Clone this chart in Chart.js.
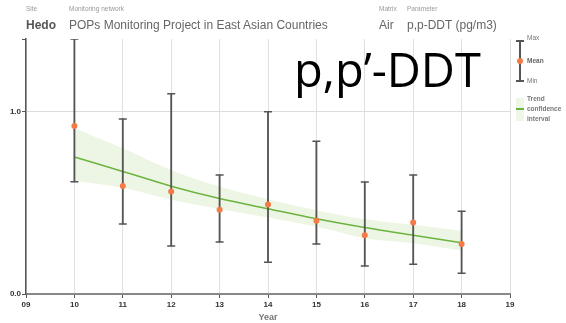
<!DOCTYPE html>
<html>
<head>
<meta charset="utf-8">
<script src="https://cdn.jsdelivr.net/npm/chart.js@4/dist/chart.umd.min.js"></script>
<style>
  html, body { margin: 0; padding: 0; background: #fff; }
  body { width: 566px; height: 323px; position: relative; overflow: hidden; font-family: "Liberation Sans", Arial, sans-serif; }
  #wrap { position: absolute; left: 0; top: 0; width: 566px; height: 323px; }
  .lbl { position: absolute; font-size: 6.5px; color: #999; white-space: nowrap; }
  .val { position: absolute; font-size: 12px; color: #666; white-space: nowrap; }
  .big { position: absolute; left: 294px; top: 46px; font-family: "Open Sans", sans-serif; font-size: 47px; color: #000; white-space: nowrap; line-height: 1; }
  .leg { position: absolute; font-size: 6.5px; color: #777; white-space: nowrap; }
</style>
</head>
<body>
<div id="wrap"><canvas id="chart" width="566" height="323"></canvas></div>

<div class="lbl" style="left:26px; top:5px;">Site</div>
<div class="lbl" style="left:69px; top:5px;">Monitoring network</div>
<div class="lbl" style="left:379px; top:5px;">Matrix</div>
<div class="lbl" style="left:407px; top:5px;">Parameter</div>
<div class="val" style="left:26px; top:18px; font-weight:bold; color:#555;">Hedo</div>
<div class="val" style="left:69px; top:18px;">POPs Monitoring Project in East Asian Countries</div>
<div class="val" style="left:379px; top:18px;">Air</div>
<div class="val" style="left:407px; top:18px;">p,p-DDT (pg/m3)</div>
<div class="big">p,p’-DDT</div>

<!-- legend -->
<div style="position:absolute; left:516px; top:40px; width:8px; height:1.5px; background:#555;"></div>
<div style="position:absolute; left:519.3px; top:40px; width:1.5px; height:41px; background:#555;"></div>
<div style="position:absolute; left:516px; top:80px; width:8px; height:1.5px; background:#555;"></div>
<div style="position:absolute; left:517px; top:58px; width:6px; height:6px; border-radius:3px; background:#f47b45;"></div>
<div class="leg" style="left:527px; top:34px;">Max</div>
<div class="leg" style="left:527px; top:57px; font-weight:bold; color:#666;">Mean</div>
<div class="leg" style="left:527px; top:77px;">Min</div>
<div style="position:absolute; left:516px; top:98px; width:8px; height:23px; background:#eef7e6;"></div>
<div style="position:absolute; left:516px; top:108px; width:8px; height:1.5px; background:#6db33f;"></div>
<div class="leg" style="left:527px; top:95px; font-weight:bold;">Trend</div>
<div class="leg" style="left:527px; top:105px; font-weight:bold;">confidence</div>
<div class="leg" style="left:527px; top:115px; font-weight:bold;">interval</div>

<script>
const axisYears = ['09', '10', '11', '12', '13', '14', '15', '16', '17', '18', '19'];
const years = ['10', '11', '12', '13', '14', '15', '16', '17', '18'];
const meanVals = [0.923, 0.593, 0.563, 0.462, 0.491, 0.402, 0.323, 0.392, 0.274];
const maxVals = [1.40, 0.961, 1.10, 0.653, 1.0, 0.838, 0.615, 0.653, 0.455];
const minVals = [0.616, 0.384, 0.264, 0.285, 0.174, 0.274, 0.154, 0.163, 0.114];
const trendVals = [0.752, 0.673, 0.592, 0.524, 0.468, 0.413, 0.365, 0.323, 0.282];
const bandHigh = [0.91, 0.80, 0.68, 0.59, 0.52, 0.46, 0.41, 0.38, 0.347];
const bandLow = [0.622, 0.583, 0.517, 0.466, 0.42, 0.37, 0.306, 0.279, 0.239];
const yTicks = [0, 1.0, 1.4];

function pts(vals) {
    return years.map((yr, i) => ({ x: yr, y: vals[i] }));
}

const ctx = document.getElementById('chart').getContext('2d');

new Chart(ctx, {
    type: 'bar',
    data: {
        labels: axisYears,
        datasets: [
            {
                type: 'line',
                data: pts(bandHigh),
                borderWidth: 0,
                pointRadius: 0,
                backgroundColor: 'rgba(214, 236, 196, 0.45)',
                fill: '+1',
                cubicInterpolationMode: 'monotone',
                order: 6
            },
            {
                type: 'line',
                data: pts(bandLow),
                borderWidth: 0,
                pointRadius: 0,
                fill: false,
                cubicInterpolationMode: 'monotone',
                order: 5
            },
            {
                type: 'line',
                data: pts(trendVals),
                borderColor: '#6db33f',
                borderWidth: 1.5,
                pointRadius: 0,
                fill: false,
                cubicInterpolationMode: 'monotone',
                order: 4
            },
            {
                // whisker stems
                type: 'bar',
                data: years.map((yr, i) => ({ x: yr, y: [minVals[i], maxVals[i]] })),
                backgroundColor: '#555',
                barThickness: 1.2,
                order: 3
            },
            {
                type: 'line',
                data: pts(maxVals),
                showLine: false,
                pointStyle: 'line',
                pointRadius: 4,
                pointBorderWidth: 1.5,
                borderColor: '#555',
                order: 2
            },
            {
                type: 'line',
                data: pts(minVals),
                showLine: false,
                pointStyle: 'line',
                pointRadius: 4,
                pointBorderWidth: 1.5,
                borderColor: '#555',
                order: 1
            },
            {
                type: 'line',
                data: pts(meanVals),
                showLine: false,
                pointRadius: 3,
                pointBorderWidth: 0,
                backgroundColor: '#f47b45',
                borderColor: '#f47b45',
                order: 0
            }
        ]
    },
    options: {
        responsive: false,
        animation: false,
        layout: { padding: { top: 39, right: 56, left: 0, bottom: 0 } },
        plugins: {
            legend: { display: false },
            tooltip: { enabled: false }
        },
        scales: {
            x: {
                offset: false,
                grid: { offset: false, color: '#e0e0e0', tickColor: '#555', tickLength: 4, lineWidth: 1 },
                border: { color: '#888', width: 2 },
                ticks: {
                    font: { family: 'Liberation Sans', size: 8, weight: 'bold' },
                    color: '#333',
                    padding: 2,
                    maxRotation: 0,
                    autoSkip: false
                },
                title: {
                    display: true,
                    text: 'Year',
                    font: { family: 'Liberation Sans', size: 9, weight: 'bold' },
                    color: '#777',
                    padding: { top: 2, bottom: 0 }
                },
                afterFit: scale => { scale.height = 29; }
            },
            y: {
                min: 0,
                max: 1.4,
                afterBuildTicks: scale => { scale.ticks = yTicks.map(v => ({ value: v })); },
                grid: {
                    color: c => (c.tick && c.tick.value === 1) ? '#dcdcdc' : 'rgba(0,0,0,0)',
                    tickColor: '#555',
                    tickLength: 4
                },
                border: { color: '#555', width: 1.5 },
                ticks: {
                    callback: v => (v === 1.4 ? '' : v.toFixed(1)),
                    font: { family: 'Liberation Sans', size: 8, weight: 'bold' },
                    color: '#333',
                    padding: 1
                },
                afterFit: scale => { scale.width = 26; }
            }
        }
    }
});
</script>
</body>
</html>
